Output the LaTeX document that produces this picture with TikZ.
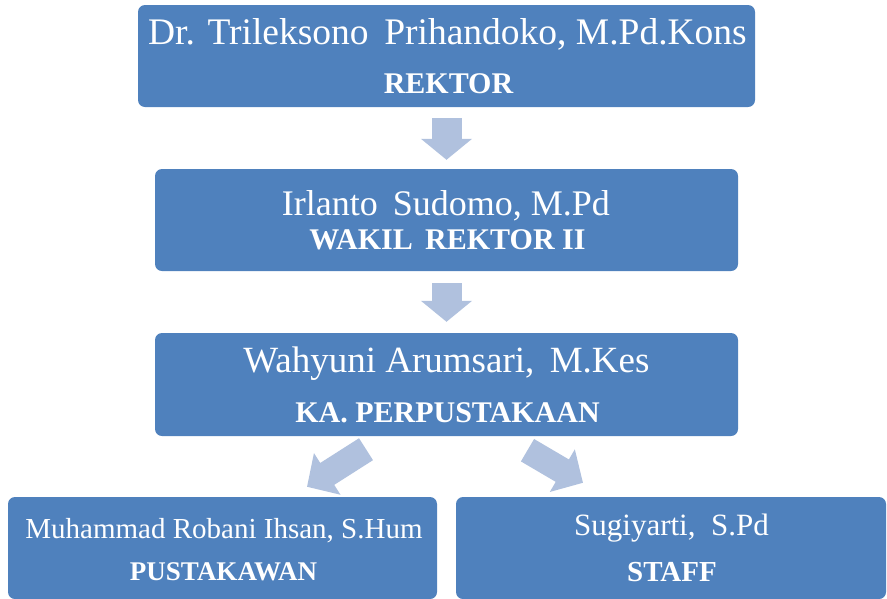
\documentclass[tikz,border=0pt]{standalone}
\usepackage{fontspec}
\setmainfont{Liberation Serif}
\usetikzlibrary{arrows.meta,calc}
\definecolor{boxblue}{RGB}{79,129,189}
\definecolor{arrowblue}{RGB}{176,193,222}

\begin{document}
\begin{tikzpicture}[x=1pt,y=-1pt,
        box/.style={fill=boxblue,rounded corners=7pt,inner sep=0pt,minimum height=102pt},
        nametext/.style={anchor=base,text=white,inner sep=0pt},
        roletext/.style={anchor=base,text=white,inner sep=0pt},
        downarrow/.style={draw=arrowblue,line width=30pt,-{Triangle[width=50pt,length=21pt,fill=arrowblue]}},
        sidearrow/.style={draw=arrowblue,line width=26pt,-{Triangle[width=48pt,length=24pt,fill=arrowblue]}}]
        \useasboundingbox (0,0) rectangle (887,598);
        \clip (0,0) rectangle (887,598);
        % boxes
        \node[box,minimum width=617pt] (rektor) at (446.5,56) {};
        \node[box,minimum width=583pt] (wakil) at (446.5,220) {};
        \node[box,minimum width=583pt,minimum height=103pt] (kapus) at (446.5,384.5) {};
        \node[box,minimum width=429pt] (pustakawan) at (222.5,548) {};
        \node[box,minimum width=430pt] (staff) at (671,548) {};
        % names and roles
        \node[nametext,font=\fontsize{37.5}{40}\selectfont] (rektorname) at (447.5,44) {Dr. Trileksono\, Prihandoko, M.Pd.Kons};
        \node[roletext,font=\fontsize{30}{32}\selectfont\bfseries] (rektorrole) at (448.5,93) {REKTOR};
        \node[nametext,font=\fontsize{36}{38}\selectfont] (wakilname) at (446,215) {Irlanto\, Sudomo, M.Pd};
        \node[roletext,font=\fontsize{30}{32}\selectfont\bfseries] (wakilrole) at (447.5,249) {WAKIL\, REKTOR II};
        \node[nametext,font=\fontsize{37}{40}\selectfont] (kapusname) at (446.5,372) {Wahyuni Arumsari,\, M.Kes};
        \node[roletext,font=\fontsize{30}{32}\selectfont\bfseries] (kapusrole) at (447.5,422) {KA. PERPUSTAKAAN};
        \node[nametext,font=\fontsize{29}{31}\selectfont] (pustakawanname) at (224,538) {Muhammad Robani Ihsan, S.Hum};
        \node[roletext,font=\fontsize{27}{29}\selectfont\bfseries] (pustakawanrole) at (223.5,580) {PUSTAKAWAN};
        \node[nametext,font=\fontsize{31}{33}\selectfont] (staffname) at (671.5,535) {Sugiyarti,\ \ S.Pd};
        \node[roletext,font=\fontsize{29}{31}\selectfont\bfseries] (staffrole) at (672,581) {STAFF};
        % block arrows
        \draw[downarrow] ($(rektor.south)+(0,11)$) -- ($(wakil.north)+(0,-9)$);
        \draw[downarrow] ($(wakil.south)+(0,12)$) -- ($(kapus.north)+(0,-11)$);
        \draw[sidearrow] ($(kapus.south)+(-80.5,13)$) -- ($(pustakawan.north)+(84.5,-10)$);
        \draw[sidearrow] ($(kapus.south)+(81,14)$) -- ($(staff.north)+(-88,-14)$);
    \end{tikzpicture}
\end{document}
